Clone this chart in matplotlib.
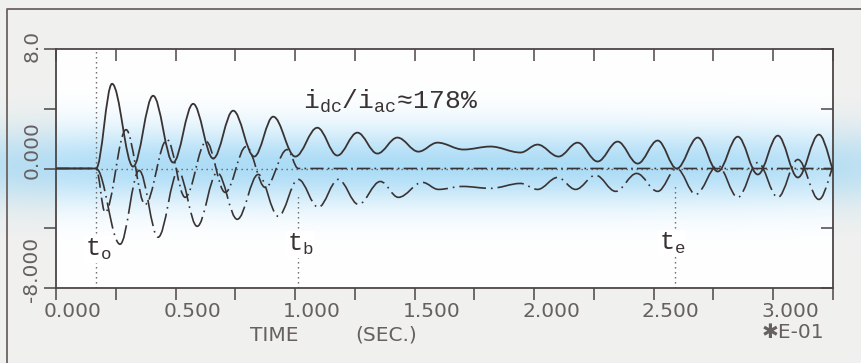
import numpy as np
import matplotlib.pyplot as plt
from matplotlib.path import Path
from matplotlib.patches import PathPatch
from matplotlib.lines import Line2D
import matplotlib.transforms as mtransforms

plt.rcParams['mathtext.fontset'] = 'custom'
plt.rcParams['mathtext.rm'] = 'Liberation Mono'
plt.rcParams['mathtext.it'] = 'Liberation Mono'

# time in units of 0.1 s (*E-01), current scale -8 .. 8
t_o = 0.1675
t_b = 1.013
t_e = 2.588

# turning points of the three phase currents
ia_t = [0.0, t_o, 0.2345, 0.3224, 0.4062, 0.490, 0.5737, 0.6575, 0.7412, 0.8291,
        0.9087, 1.0008, 1.093, 1.1767, 1.2605, 1.3442, 1.428, 1.5159, 1.5955,
        1.7044, 1.8174, 1.943, 2.0142, 2.1022, 2.1817, 2.2655, 2.3492, 2.433,
        2.5167, 2.5963, 2.6843, 2.768, 2.8518, 2.9355, 3.0193, 3.103, 3.191, 3.2747]
ia_v = [0.0, 0.0, 5.67, 0.13, 4.87, 0.40, 4.33, 0.67, 3.87, 0.80,
        3.47, 0.80, 2.73, 0.87, 2.40, 1.00, 2.07, 1.13, 1.73,
        1.27, 1.47, 1.07, 1.60, 0.80, 1.73, 0.47, 1.80, 0.33,
        1.87, 0.00, 2.07, -0.20, 2.13, -0.40, 2.20, -0.60, 2.27, -0.70]

ib_t = [0.0, t_o, 0.2052, 0.2931, 0.3727, 0.4648, 0.5402, 0.6281, 0.7077,
        0.7956, 0.8752, 0.9673, 1.0134, 3.25]
ib_v = [0.0, 0.0, -2.93, 2.60, -2.40, 1.93, -1.93, 1.80, -1.60,
        1.47, -1.27, 1.27, 0.0, 0.0]

ic_t = [0.0, t_o, 0.268, 0.3476, 0.4271, 0.5109, 0.5905, 0.6742, 0.758, 0.8459,
        0.9296, 1.0134, 1.0971, 1.1809, 1.2647, 1.3568, 1.4322, 1.5327, 1.5997,
        1.7002, 1.8174, 1.943, 2.0142, 2.098, 2.1734, 2.2571, 2.3409, 2.4288,
        2.5167, 2.5963, 2.6759, 2.768, 2.8518, 2.9355, 3.0193, 3.103, 3.191, 3.2747]
ic_v = [0.0, 0.0, -5.07, -0.13, -4.60, -0.20, -3.87, -0.27, -3.40, -0.40,
        -3.20, -0.73, -2.60, -0.73, -2.40, -0.87, -1.93, -0.93, -1.40,
        -1.20, -1.33, -1.00, -1.40, -0.60, -1.40, -0.45, -1.53, -0.33,
        -1.53, 0.00, -1.73, 0.20, -1.93, 0.40, -1.93, 0.60, -2.07, 0.70]

x_ticks = [0.0, 0.5, 1.0, 1.5, 2.0, 2.5, 3.0]
x_labels = ['0.000', '0.500', '1.000', '1.500', '2.000', '2.500', '3.000']
y_ticks = [8.0, 0.0, -8.0]
y_labels = ['8.0', '0.000', '-8.000']

W, H = 861, 363
ink = '#3a3333'
grey = '#666060'

fig = plt.figure(figsize=(W / 100, H / 100), dpi=100)

# paper background with the blue band along the zero line
al, ar, at, ab = 56, 833, 49, 288
yy, xx = np.mgrid[0:H, 0:W]
img = np.ones((H, W, 3)) * np.array([0.945, 0.945, 0.937])
inside = (xx >= al) & (xx <= ar) & (yy >= at) & (yy <= ab)
img[inside] = 1.0
hx = np.clip(1 - 0.55 * ((xx - 420) / 520.0) ** 4, 0.35, 1)
w = 0.85 * np.exp(-0.5 * ((yy - 166) / 27.0) ** 2) * hx
blue = np.array([0.62, 0.84, 0.96])
img = img * (1 - w[..., None]) + blue * w[..., None]
bg = fig.add_axes([0, 0, 1, 1], zorder=-1)
bg.imshow(img, aspect='auto', extent=(0, W, H, 0))
bg.set_xlim(0, W)
bg.set_ylim(H, 0)
bg.axis('off')
# outer frame (cut off at right and bottom)
bg.add_line(Line2D([7, 7, W], [H, 9, 9], color='#6e625e', lw=1.3))

ax = fig.add_axes([al / W, 1 - ab / H, (ar - al) / W, (ab - at) / H])
ax.set_facecolor('none')
ax.set_xlim(0, 3.25)
ax.set_ylim(-8, 8)


def trace(ts, vs, **kw):
    verts = [(ts[0], vs[0])]
    codes = [Path.MOVETO]
    for i in range(len(ts) - 1):
        d = 0.363 * (ts[i + 1] - ts[i])
        verts += [(ts[i] + d, vs[i]), (ts[i + 1] - d, vs[i + 1]), (ts[i + 1], vs[i + 1])]
        codes += [Path.CURVE4] * 3
    ax.add_patch(PathPatch(Path(verts, codes), fill=False, **kw))


dots = (0, (1, 2.6))
ax.hlines(0, t_o, 3.25, colors=grey, linestyles=dots, lw=1.0, zorder=1)
ax.vlines(t_o, -8, 8, colors=grey, linestyles=dots, lw=1.0, zorder=1)
ax.vlines(t_b, -8, -1.8, colors=grey, linestyles=dots, lw=1.0, zorder=1)
ax.vlines(t_e, -8, -1.0, colors=grey, linestyles=dots, lw=1.0, zorder=1)

trace(ic_t, ic_v, edgecolor=ink, lw=1.2, linestyle=(0, (16, 3, 1, 3)), zorder=2)
trace(ib_t, ib_v, edgecolor=ink, lw=1.2, linestyle=(0, (8, 2.5, 1, 2.5)), zorder=2)
trace(ia_t, ia_v, edgecolor=ink, lw=1.3, zorder=3)

# annotations
ax.text(1.034, 4.0, r'$\mathrm{i_{dc}/i_{ac}}$≈178%', fontsize=19, color=ink,
        family=['Liberation Mono', 'DejaVu Sans Mono'], va='baseline', ha='left')
box = dict(facecolor='white', edgecolor='none', pad=0.5)
ax.text(0.121, -5.87, r'$\mathrm{t_o}$', fontsize=18, color=ink, va='baseline', bbox=box)
ax.text(0.967, -5.53, r'$\mathrm{t_b}$', fontsize=18, color=ink, va='baseline', bbox=box)
ax.text(2.521, -5.47, r'$\mathrm{t_e}$', fontsize=18, color=ink, va='baseline', bbox=box)

# frame and ticks
for s in ax.spines.values():
    s.set_color('#4d4545')
    s.set_linewidth(1.3)
ax.set_xticks(np.arange(0, 3.26, 0.25))
ax.set_yticks([-8, -4, 0, 4, 8])
ax.tick_params(direction='out', length=8.6, width=1.1, color='#4d4545',
               labelbottom=False, labelleft=False)
top = ax.secondary_xaxis('top')
top.set_xticks(np.arange(0, 3.26, 0.25))
top.tick_params(direction='in', length=8.6, width=1.1, color='#4d4545', labeltop=False)
top.spines['top'].set_visible(False)
right = ax.secondary_yaxis('right')
right.set_yticks([-8, -4, 0, 4, 8])
right.tick_params(direction='in', length=8.6, width=1.1, color='#4d4545', labelright=False)
right.spines['right'].set_visible(False)

lab = dict(fontsize=14.5, color=grey, family='DejaVu Sans')
bx = mtransforms.blended_transform_factory(ax.transData, ax.transAxes)
for t, s in zip(x_ticks, x_labels):
    ax.text(t - 0.05, -0.1, s, transform=bx, ha='left', va='center', **lab)
by = mtransforms.blended_transform_factory(ax.transAxes, ax.transData)
y_off = {'8.0': -0.87, '0.000': -0.73, '-8.000': -0.93}
for v, s in zip(y_ticks, y_labels):
    ax.text(-0.031, v + y_off[s], s, transform=by, rotation=90, ha='center',
            va='bottom', clip_on=False, **lab)

ax.text((250 - al) / (ar - al), -0.197, 'TIME', transform=ax.transAxes,
        ha='left', va='center', **lab)
ax.text((355 - al) / (ar - al), -0.197, '(SEC.)', transform=ax.transAxes,
        ha='left', va='center', **lab)
ax.text((762 - al) / (ar - al), -0.185, '✱E-01', transform=ax.transAxes,
        ha='left', va='center', **lab)

fig.savefig('out.png', dpi=100)
